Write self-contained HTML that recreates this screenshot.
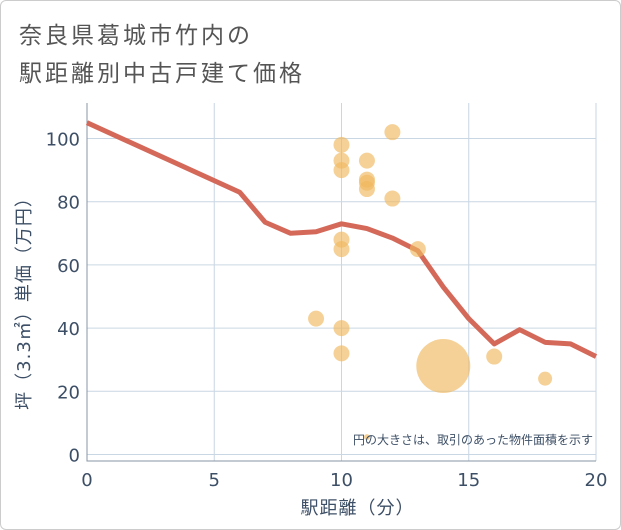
<!DOCTYPE html>
<html><head><meta charset="utf-8"><style>
body{margin:0;background:#fff;font-family:"DejaVu Sans","Noto Sans CJK JP",sans-serif;}
#wrap{position:relative;width:619px;height:528px;border:1px solid #ccc;border-radius:6px;background:#fff;}
.title{position:absolute;left:18px;font-size:23px;color:#555;letter-spacing:3px;}
</style></head><body>
<div id="wrap">
<div class="title" style="top:15px">奈良県葛城市竹内の</div>
<div class="title" style="top:53px">駅距離別中古戸建て価格</div>
<svg id="chart" width="621" height="530" style="position:absolute;left:-1px;top:-1px"></svg>
</div>
<script>
const xTicks=[0,5,10,15,20];
const yTicks=[0,20,40,60,80,100];
const lineX=[0,6,7,8,9,10,11,12,13,14,15,16,17,18,19,20];
const lineY=[105,83,73.5,70,70.5,73,71.5,68.5,64.5,53,43,35,39.5,35.5,35,31];
const ptX=[10,10,10,10,10,10,10,11,11,11,11,12,12,13,9,14,16,18,11];
const ptY=[98,93,90,68,65,40,32,93,87,86,84,102,81,65,43,28,31,24,5.5];
const ptR=[8,8,8,8,8,8,8,8,8,8,8,8,8,8,8,27,8,7,3];
const NS='http://www.w3.org/2000/svg';
const svg=document.getElementById('chart');
const L=87,R=596,T=103,B=461;
const sx=v=>L+(v-0)/20*(R-L);
const sy=v=>454.5-v*3.16;
const FF='"DejaVu Sans","Noto Sans CJK JP",sans-serif';
function mk(t,a){const e=document.createElementNS(NS,t);for(const k in a)e.setAttribute(k,a[k]);svg.appendChild(e);return e;}
yTicks.forEach(v=>{
 const g=mk('line',{x1:L,x2:R,y1:sy(v),y2:sy(v),stroke:'#c9d6e3','stroke-width':1});
 
 
 const t=mk('text',{x:L-7,y:sy(v)+7,'text-anchor':'end','font-size':18,fill:'#3d4f66','font-family':FF});
 t.textContent=v;
 
 
});
xTicks.forEach(v=>{
 const g=mk('line',{x1:sx(v),x2:sx(v),y1:T,y2:B,stroke:'#c9d6e3','stroke-width':1});
 
 
 const t=mk('text',{x:sx(v),y:B+25,'text-anchor':'middle','font-size':18,fill:'#3d4f66','font-family':FF});
 t.textContent=v;
 
 
});
const ax=mk('path',{d:`M${L},${T}V${B}H${R}`,stroke:'#8a96a3',fill:'none','stroke-width':1});


const ln=mk('polyline',{points:lineX.map((x,i)=>sx(x)+','+sy(lineY[i])).join(' '),fill:'none',stroke:'#d4695a','stroke-width':5,'stroke-linejoin':'round'});


ptX.forEach((x,i)=>{
 const c=mk('circle',{cx:sx(x),cy:sy(ptY[i]),r:ptR[i],fill:'#f0b860','fill-opacity':0.65});
 
 
});
const note=mk('text',{x:R-3,y:B-17,'text-anchor':'end','font-size':12,fill:'#3d4f66','font-family':FF});
note.textContent='円の大きさは、取引のあった物件面積を示す';


const xt=mk('text',{x:(L+R)/2+16,y:514,'text-anchor':'middle','font-size':18,fill:'#3d4f66','font-family':FF,'letter-spacing':1});
xt.textContent='駅距離（分）';


const yt=mk('text',{x:0,y:0,'text-anchor':'middle','font-size':18,fill:'#3d4f66','font-family':FF,'letter-spacing':1,transform:'translate(30,299) rotate(-90)'});
yt.textContent='坪（3.3㎡）単価（万円）';


</script>
</body></html>
